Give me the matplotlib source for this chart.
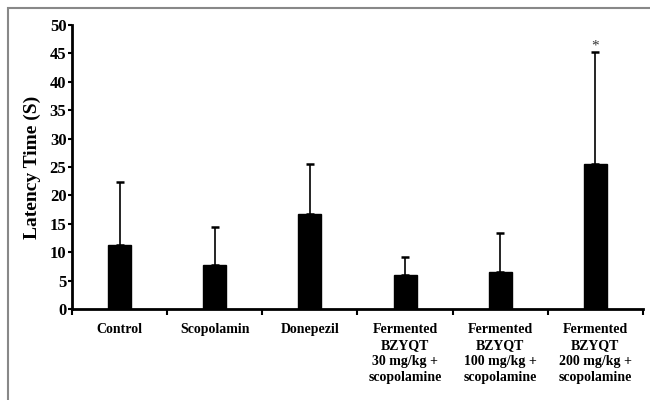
import numpy as np
import matplotlib.pyplot as plt
from matplotlib.patches import Rectangle

# Data
groups = ['Control', 'Scopolamin', 'Donepezil',
          'Fermented\nBZYQT\n30 mg/kg +\nscopolamine',
          'Fermented\nBZYQT\n100 mg/kg +\nscopolamine',
          'Fermented\nBZYQT\n200 mg/kg +\nscopolamine']
means = [11.3, 7.8, 16.7, 6.0, 6.5, 25.6]
sds = [11.0, 6.6, 8.9, 3.2, 6.9, 19.6]
marks = ['', '', '', '', '', '*']

plt.rcParams['font.family'] = ['Liberation Serif', 'DejaVu Serif']
plt.rcParams['font.weight'] = 'bold'

fig = plt.figure(figsize=(6.5, 4), dpi=100)
ax = fig.add_axes([72 / 650, 1 - 309 / 400, (643 - 72) / 650, (309 - 25) / 400])

# gray frame around the picture (top and left edges visible)
fig.patches.append(Rectangle((8 / 650, -0.1), 1.1, 1.1 - 8 / 400,
                             transform=fig.transFigure, fill=False,
                             edgecolor='#888888', linewidth=1.5))

x = np.arange(len(groups))
ax.bar(x, means, width=0.24, color='black', edgecolor='black', zorder=2)
ax.errorbar(x, means, yerr=[np.zeros(len(sds)), sds], fmt='none',
            ecolor='black', elinewidth=1.2, capsize=3, capthick=1.8, zorder=1)

for xi, m, s, t in zip(x, means, sds, marks):
    if t:
        ax.text(xi, m + s, t, ha='center', va='bottom', fontsize=11,
                fontweight='normal', color='#333333')

ax.set_xlim(-0.5, len(groups) - 0.5)
ax.set_ylim(0, 50)
ax.set_yticks(np.arange(0, 51, 5))
ax.set_xticks(x)
ax.set_xticklabels(groups, fontsize=10, fontweight='bold', linespacing=1.3)
ax.set_xticks(np.arange(-0.5, len(groups)), minor=True)
ax.tick_params(axis='x', which='major', length=0, pad=10)
ax.tick_params(axis='x', which='minor', length=4, width=1.5, direction='out')
ax.tick_params(axis='y', length=3, width=1.5, direction='out', labelsize=12, pad=1)
for lab in ax.get_yticklabels():
    lab.set_fontweight('bold')

ax.set_ylabel('Latency Time (S)', fontsize=14, fontweight='bold', labelpad=6)

for side in ['top', 'right']:
    ax.spines[side].set_visible(False)
ax.spines['left'].set_linewidth(2)
ax.spines['bottom'].set_linewidth(2)

fig.savefig('out.png', dpi=100)
